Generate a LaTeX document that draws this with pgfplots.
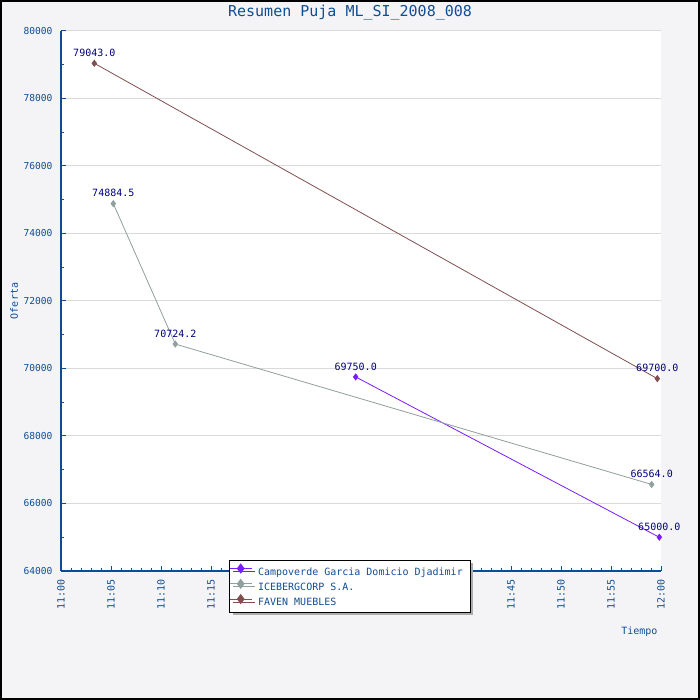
\documentclass[border=0pt]{standalone}
\usepackage{fontspec}
\setmainfont{DejaVu Sans Mono}
\usepackage{pgfplots}
\pgfplotsset{compat=1.18}
\usetikzlibrary{shadows}
\definecolor{bgc}{RGB}{244,244,246}
\definecolor{axc}{RGB}{10,76,150}
\definecolor{txc}{RGB}{16,78,150}
\definecolor{lblc}{RGB}{0,0,128}
\definecolor{gridc}{RGB}{218,218,218}
\definecolor{brownc}{RGB}{128,80,80}
\definecolor{greyc}{RGB}{143,160,158}
\definecolor{purplec}{RGB}{122,28,255}
\begin{document}
\begin{tikzpicture}
\useasboundingbox (0,0) rectangle (700pt,700pt);
\fill[bgc] (0,0) rectangle (700pt,700pt);
\draw[black, line width=2pt] (1pt,1pt) rectangle (699pt,699pt);
\begin{axis}[
  at={(61pt,129pt)}, anchor=south west,
  scale only axis, width=600pt, height=540pt,
  xmin=0, xmax=60, ymin=64000, ymax=80000,
  axis background/.style={fill=white},
  axis x line*=bottom, axis y line*=left,
  axis line style={-, axc, line width=1.5pt},
  tick align=inside,
  major tick length=5pt, minor tick length=3pt,
  every tick/.style={axc, line width=1pt},
  xtick={0,5,...,60},
  xticklabels={11:00,11:05,11:10,11:15,11:20,11:25,11:30,11:35,11:40,11:45,11:50,11:55,12:00},
  minor x tick num=4,
  ytick={64000,66000,...,80000},
  minor y tick num=1,
  scaled y ticks=false,
  /pgf/number format/assume math mode=true,
  /pgf/number format/set thousands separator={},
  ymajorgrids, grid style={gridc, line width=1pt},
  xticklabel style={rotate=90, anchor=east, font=\fontsize{10pt}{12pt}\selectfont, text=txc},
  yticklabel style={font=\fontsize{9.6pt}{12pt}\selectfont, text=txc},
  xticklabel shift=5pt, yticklabel shift=5pt,
  xlabel={Tiempo}, ylabel={Oferta},
  xlabel style={at={(axis description cs:1,-0.113)}, anchor=east, font=\fontsize{10pt}{12pt}\selectfont, text=txc},
  ylabel style={at={(axis description cs:-0.078,0.5)}, anchor=center, font=\fontsize{10pt}{12pt}\selectfont, text=txc},
  title={Resumen Puja ML\_SI\_2008\_008},
  every axis title shift=0pt,
  title style={at={(axis description cs:0.4817,1.034)}, anchor=center, font=\fontsize{15pt}{17pt}\selectfont, text=txc},
  clip=false,
  point meta=explicit symbolic,
  nodes near coords,
  every node near coord/.append style={anchor=base, inner sep=0pt, yshift=6.7pt, font=\fontsize{10pt}{12pt}\selectfont, text=lblc},
  legend image code/.code={
    \draw[#1, mark=none] (0pt,3.6pt) -- (22pt,3.6pt);
    \draw[#1, only marks, mark size=4.5pt] plot coordinates {(10.5pt,3.6pt)};
  },
  legend cell align=left,
  legend style={at={(0.2805,0.0204)}, anchor=north west, draw=black, line width=1pt, fill=white,
    drop shadow={shadow xshift=3pt, shadow yshift=-3pt, fill=black!32, opacity=1},
    font=\fontsize{10pt}{12pt}\selectfont, text=txc, inner xsep=0pt, inner ysep=3.5pt, row sep=1.2pt,
    column sep=4pt, nodes={inner sep=1.5pt}},
]
\addplot[purplec, line width=0.8pt, mark=diamond*, mark size=3pt, mark options={fill=purplec, draw=purplec}] coordinates {
  (29.47,69750.0) [69750.0]
  (59.83,65000.0) [65000.0]
};
\addlegendentry{Campoverde Garcia Domicio Djadimir\kern6pt}
\addplot[greyc, line width=0.8pt, mark=diamond*, mark size=3pt, mark options={fill=greyc, draw=greyc}] coordinates {
  (5.23,74884.5) [74884.5]
  (11.43,70724.2) [70724.2]
  (59.07,66564.0) [66564.0]
};
\addlegendentry{ICEBERGCORP S.A.}
\addplot[brownc, line width=0.8pt, mark=diamond*, mark size=3pt, mark options={fill=brownc, draw=brownc}] coordinates {
  (3.33,79043.0) [79043.0]
  (59.63,69700.0) [69700.0]
};
\addlegendentry{FAVEN MUEBLES}
\end{axis}
\end{tikzpicture}
\end{document}
